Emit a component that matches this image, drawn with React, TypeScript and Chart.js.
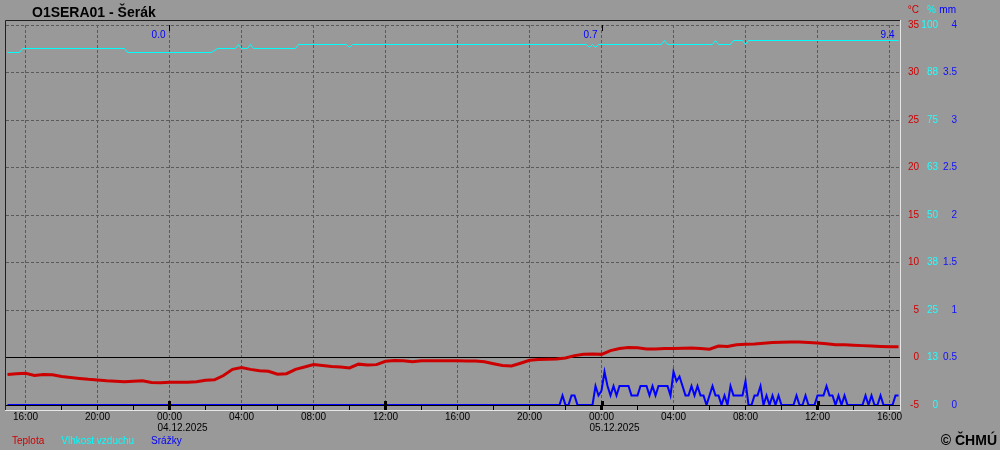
import React, { useEffect, useRef } from 'react';
import { Chart, registerables } from 'chart.js';

Chart.register(...registerables);

const FONT = "'Liberation Sans', Arial, sans-serif";
const BG = '#999999';
const GRID = '#5a5a5a';
const RED = '#cc0000';
const CYAN = '#00ffff';
const BLUE = '#0000ff';

const TITLE = 'O1SERA01 - Šerák';
const COPYRIGHT = '© ČHMÚ';
const seriesLabels = ['Teplota', 'Vlhkost vzduchu', 'Srážky'];
const unitLabels = ['°C', '%', 'mm'];

// x values are hours since 03.12.2025 00:00
const X_MIN = 14.917;
const X_MAX = 64.583;
const START_HOUR = 15; // first sample 03.12. 15:00

// temperature, 30-minute samples from 15:00
const tempStepHours = 0.5;
const temperature = [
  -1.78, -1.7, -1.67, -1.9, -1.8, -1.82, -2.0, -2.1, -2.2, -2.3,
  -2.37, -2.45, -2.5, -2.55, -2.5, -2.45, -2.62, -2.65, -2.6, -2.6,
  -2.6, -2.55, -2.4, -2.35, -1.9, -1.25, -1.05, -1.25, -1.4, -1.45,
  -1.75, -1.7, -1.25, -1.0, -0.75, -0.85, -0.95, -1.0, -1.1, -0.7,
  -0.8, -0.75, -0.4, -0.32, -0.35, -0.45, -0.35, -0.33, -0.35, -0.35,
  -0.35, -0.37, -0.37, -0.45, -0.65, -0.85, -0.9, -0.6, -0.3, -0.2,
  -0.18, -0.15, -0.05, 0.2, 0.35, 0.38, 0.33, 0.72, 0.95, 1.05,
  1.03, 0.9, 0.9, 0.95, 0.95, 0.97, 1.0, 0.95, 0.88, 1.2,
  1.15, 1.35, 1.4, 1.43, 1.5, 1.58, 1.6, 1.63, 1.63, 1.58,
  1.52, 1.45, 1.35, 1.33, 1.3, 1.25, 1.2, 1.15, 1.12, 1.12,
];

// humidity: change points, index = 10-minute steps from 15:00
const humidityIdx = [
  0, 4, 5, 39, 40, 68, 70, 76, 77, 78, 80, 81, 82, 96, 97, 113, 114, 115,
  193, 194, 195, 196, 197, 218, 219, 220, 235, 236, 237, 241, 242, 245, 246, 247, 297,
];
const humidityVal = [
  92.76, 92.76, 93.82, 93.82, 92.76, 92.76, 93.82, 93.82, 94.87, 93.82, 93.82, 94.87, 93.82, 93.82, 94.87, 94.87, 94.1, 94.87,
  94.87, 94.1, 94.87, 94.1, 94.87, 94.87, 95.92, 94.87, 94.87, 95.92, 94.87, 94.87, 95.92, 95.92, 94.87, 95.92, 95.92,
];

// precipitation (mm / 10 min)
const precipLeadIdx = [0];
const precipLeadVal = [0];
const precipStartIdx = 180; // 04.12. 21:00
const precip10 = [
  0, 0, 0, 0, 0, 0.1, 0, 0, 0.1, 0.1,
  0, 0, 0, 0, 0, 0, 0.2, 0.1, 0.15, 0.35,
  0.2, 0.1, 0.2, 0.1, 0.2, 0.2, 0.2, 0.2, 0.1, 0.1,
  0.1, 0.2, 0.2, 0.2, 0.1, 0.2, 0.1, 0.2, 0.2, 0.2,
  0.2, 0.1, 0.35, 0.25, 0.3, 0.2, 0.1, 0.1, 0.2, 0.1,
  0.2, 0.1, 0.1, 0, 0.1, 0.2, 0.1, 0.1, 0, 0.1,
  0, 0.2, 0.1, 0.1, 0.1, 0.1, 0.25, 0, 0, 0.1,
  0.1, 0.2, 0, 0.1, 0, 0.1, 0, 0.1, 0, 0,
  0, 0, 0, 0.1, 0, 0, 0.1, 0, 0, 0,
  0.1, 0.1, 0.1, 0.2, 0.1, 0.1, 0, 0.1, 0, 0.1,
  0, 0, 0, 0, 0, 0, 0.1, 0, 0.1, 0,
  0, 0.1, 0, 0, 0, 0, 0.1, 0.1,
];

const tickHours = [16, 18, 20, 22, 24, 26, 28, 30, 32, 34, 36, 38, 40, 42, 44, 46, 48, 50, 52, 54, 56, 58, 60, 62, 64];
const labelHours = [16, 20, 24, 28, 32, 36, 40, 44, 48, 52, 56, 60, 64];
const majorTickHours = [24, 36, 48, 60];
const dateTickHours = [24, 48];
const dateLabels = ['04.12.2025', '05.12.2025'];
const dailySumHours = [24, 48, 64.5];
const dailySums = ['0.0', '0.7', '9.4'];

const tempData = temperature.map((v, k) => ({ x: START_HOUR + k * tempStepHours, y: v }));
const humData = humidityIdx.map((idx, j) => ({ x: START_HOUR + idx / 6, y: humidityVal[j] }));
const precipData = [
  ...precipLeadIdx.map((idx, j) => ({ x: START_HOUR + idx / 6, y: precipLeadVal[j] })),
  ...precip10.map((v, j) => ({ x: START_HOUR + (precipStartIdx + j) / 6, y: v })),
];

const pad2 = (n: number) => (n < 10 ? '0' + n : '' + n);

const decor = {
  id: 'decor',
  beforeDraw(chart: any) {
    const { ctx, width, height } = chart;
    ctx.save();
    ctx.fillStyle = BG;
    ctx.fillRect(0, 0, width, height);
    ctx.restore();
  },
  afterDraw(chart: any) {
    const { ctx, chartArea: ca, scales } = chart;
    const xs = scales.x;
    ctx.save();
    // sunken frame
    ctx.lineWidth = 1;
    ctx.strokeStyle = '#202020';
    ctx.beginPath();
    ctx.moveTo(ca.left - 0.5, ca.bottom + 5.5);
    ctx.lineTo(ca.left - 0.5, ca.top - 4.5);
    ctx.lineTo(ca.right + 0.5, ca.top - 4.5);
    ctx.stroke();
    ctx.strokeStyle = '#e6e6e6';
    ctx.beginPath();
    ctx.moveTo(ca.left - 1, ca.bottom + 5.5);
    ctx.lineTo(ca.right + 0.5, ca.bottom + 5.5);
    ctx.lineTo(ca.right + 0.5, ca.top - 5);
    ctx.stroke();

    // day markers
    ctx.fillStyle = '#000';
    dateTickHours.forEach((h) => {
      const px = Math.round(xs.getPixelForValue(h));
      ctx.fillRect(px, ca.top, 1, 6);
    });
    majorTickHours.forEach((h) => {
      const px = Math.round(xs.getPixelForValue(h));
      ctx.fillRect(px - 1, ca.bottom - 4, 3, 4);
    });

    // daily precipitation sums
    ctx.font = `10px ${FONT}`;
    ctx.textBaseline = 'middle';
    ctx.textAlign = 'right';
    ctx.fillStyle = BLUE;
    dailySumHours.forEach((h, i) => {
      ctx.fillText(dailySums[i], xs.getPixelForValue(h) - 4, ca.top + 10);
    });

    // units header
    const unitScales = [scales.yT, scales.yH, scales.yP];
    const unitColors = [RED, CYAN, BLUE];
    const unitOffsets = [19, 17, 18];
    unitScales.forEach((s: any, i: number) => {
      ctx.fillStyle = unitColors[i];
      ctx.fillText(unitLabels[i], s.left + unitOffsets[i], 10);
    });

    // legend (text only)
    ctx.textAlign = 'left';
    let lx = 12;
    chart.data.datasets.forEach((ds: any) => {
      ctx.fillStyle = ds.borderColor;
      ctx.fillText(ds.label, lx, 441);
      lx += ctx.measureText(ds.label).width + 17;
    });

    // title and copyright
    ctx.font = `bold 14px ${FONT}`;
    ctx.textBaseline = 'alphabetic';
    ctx.fillStyle = '#000';
    ctx.textAlign = 'left';
    ctx.fillText(TITLE, 32, 17);
    ctx.textAlign = 'right';
    ctx.fillText(COPYRIGHT, 997, 445);
    ctx.restore();
  },
};

export default function App() {
  const ref = useRef<HTMLCanvasElement>(null);
  useEffect(() => {
    Chart.defaults.font.family = FONT;
    Chart.defaults.font.size = 10;
    const chart = new Chart(ref.current as HTMLCanvasElement, {
      type: 'line',
      data: {
        datasets: [
          {
            label: seriesLabels[0],
            data: tempData,
            yAxisID: 'yT',
            xAxisID: 'x',
            borderColor: RED,
            backgroundColor: RED,
            borderWidth: 3,
            pointRadius: 0,
            tension: 0,
          },
          {
            label: seriesLabels[1],
            data: humData,
            yAxisID: 'yH',
            xAxisID: 'x',
            borderColor: CYAN,
            backgroundColor: CYAN,
            borderWidth: 1,
            pointRadius: 0,
            tension: 0,
          },
          {
            label: seriesLabels[2],
            data: precipData,
            yAxisID: 'yP',
            xAxisID: 'x',
            borderColor: BLUE,
            backgroundColor: BLUE,
            borderWidth: 2,
            pointRadius: 0,
            tension: 0,
          },
        ],
      },
      options: {
        responsive: false,
        animation: false,
        events: [],
        layout: { padding: { left: 6, top: 25, right: 43, bottom: 17 } },
        plugins: { legend: { display: false }, title: { display: false }, tooltip: { enabled: false } },
        scales: {
          x: {
            type: 'linear',
            position: 'bottom',
            min: X_MIN,
            max: X_MAX,
            afterBuildTicks: (s: any) => {
              s.ticks = tickHours.map((v) => ({ value: v }));
            },
            afterFit: (s: any) => {
              s.height = 17;
            },
            ticks: {
              autoSkip: false,
              maxRotation: 0,
              minRotation: 0,
              color: '#000',
              padding: 1,
              font: { size: 10, family: FONT },
              callback: (v: any) => (labelHours.includes(v) ? pad2(v % 24) + ':00' : ''),
            },
            grid: {
              color: (c: any) => (c.tick && labelHours.includes(c.tick.value) ? GRID : 'rgba(0,0,0,0)'),
              tickColor: '#000',
              tickLength: 5,
              tickWidth: (c: any) => (c.tick && majorTickHours.includes(c.tick.value) ? 3 : 1),
              lineWidth: 1,
            },
            border: { display: false, dash: [3, 2] },
          },
          xd: {
            type: 'linear',
            position: 'bottom',
            min: X_MIN,
            max: X_MAX,
            afterBuildTicks: (s: any) => {
              s.ticks = dateTickHours.map((v) => ({ value: v }));
            },
            afterFit: (s: any) => {
              s.height = 11;
            },
            ticks: {
              autoSkip: false,
              maxRotation: 0,
              minRotation: 0,
              align: 'start',
              labelOffset: -12,
              padding: 0,
              color: '#000',
              font: { size: 10, family: FONT },
              callback: (_v: any, i: number) => dateLabels[i],
            },
            grid: { display: false, drawTicks: false },
            border: { display: false },
          },
          yT: {
            type: 'linear',
            position: 'right',
            weight: 0,
            min: -5,
            max: 35,
            afterFit: (s: any) => {
              s.width = 19;
            },
            ticks: { stepSize: 5, color: '#d00000', crossAlign: 'far', padding: 7, font: { size: 10, family: FONT } },
            grid: {
              drawTicks: false,
              lineWidth: 1,
              color: (c: any) => (c.tick && c.tick.value <= 0 ? '#000' : GRID),
            },
            border: { display: false, dash: (c: any) => (c.tick && c.tick.value <= 0 ? [] : [3, 2]) },
          },
          yH: {
            type: 'linear',
            position: 'right',
            weight: 1,
            min: 0,
            max: 100,
            afterFit: (s: any) => {
              s.width = 19;
            },
            ticks: {
              stepSize: 12.5,
              color: '#22ffff',
              crossAlign: 'far',
              padding: 1,
              font: { size: 10, family: FONT },
              callback: (v: any) => String(Math.round(v)),
            },
            grid: { display: false, drawTicks: false },
            border: { display: false },
          },
          yP: {
            type: 'linear',
            position: 'right',
            weight: 2,
            min: 0,
            max: 4,
            afterFit: (s: any) => {
              s.width = 19;
            },
            ticks: {
              stepSize: 0.5,
              color: '#1010ff',
              crossAlign: 'far',
              padding: 4,
              font: { size: 10, family: FONT },
              callback: (v: any) => (Number.isInteger(v) ? String(v) : v.toFixed(1)),
            },
            grid: { display: false, drawTicks: false },
            border: { display: false },
          },
        },
      } as any,
      plugins: [decor],
    });
    return () => chart.destroy();
  }, []);
  return (
    <div style={{ position: 'fixed', left: 0, top: 0, width: 1000, height: 450, background: BG }}>
      <canvas ref={ref} width={1000} height={450} style={{ display: 'block', width: 1000, height: 450 }} />
    </div>
  );
}
